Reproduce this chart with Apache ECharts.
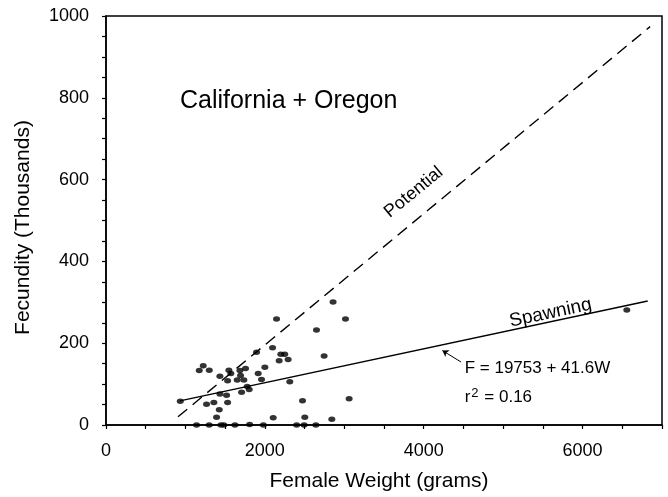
<!DOCTYPE html>
<html>
<head>
<meta charset="utf-8">
<script src="https://cdn.jsdelivr.net/npm/echarts@6/dist/echarts.min.js"></script>
<style>
  html, body { margin: 0; padding: 0; background: #fff; }
  #chart { width: 668px; height: 497px; }
</style>
</head>
<body>
<div id="chart"></div>
<script>
// female weight (g) vs fecundity (thousands)
const fishPoints = [
  [935, 58], [2859, 301], [2147, 259], [3015, 259], [2650, 232],
  [2097, 189], [1895, 178], [2746, 169], [2201, 173], [2250, 173],
  [2180, 157], [2293, 160], [1224, 145], [1174, 133], [1300, 134],
  [1547, 134], [1572, 126], [1686, 133], [1757, 138], [2000, 141],
  [1916, 126], [1434, 119], [1694, 121], [1958, 111], [1531, 108],
  [1652, 110], [1736, 110], [2314, 106], [1778, 94], [1803, 87],
  [1707, 80], [1434, 76], [1518, 73], [1266, 51], [1358, 55],
  [1531, 55], [1426, 37], [2474, 59], [3061, 64], [1392, 19],
  [2105, 18], [2503, 19], [2843, 14], [6557, 281],
  [1140, 0], [1299, 0], [1447, 0], [1484, 0], [1623, 0],
  [1808, 1], [1981, 0], [2400, 0], [2494, 0], [2642, 0]
];
const spawningLine = [[930, 59], [6820, 303]];
const potentialLine = [[906, 20], [6850, 974]];
const xTickLabels = [0, 2000, 4000, 6000];
const yTickLabels = [0, 200, 400, 600, 800, 1000];

const FONT = '"Liberation Sans", Arial, Helvetica, sans-serif';
const chart = echarts.init(document.getElementById('chart'));

chart.setOption({
  animation: false,
  backgroundColor: '#fff',
  grid: {
    left: 106, right: 6, top: 16, bottom: 72,
    show: true, borderColor: '#000', borderWidth: 1.5
  },
  xAxis: {
    type: 'value', min: 0, max: 7000, interval: 500,
    name: 'Female Weight (grams)', nameLocation: 'middle', nameGap: 46,
    nameTextStyle: { fontFamily: FONT, fontSize: 21, color: '#000', padding: [0, 10, 0, 0] },
    axisLine: { lineStyle: { color: '#000', width: 1.5 } },
    axisTick: { length: 4, lineStyle: { color: '#000', width: 1.2 } },
    axisLabel: {
      margin: 17, fontFamily: FONT, fontSize: 18, color: '#000',
      formatter: v => xTickLabels.includes(v) ? String(v) : ''
    },
    splitLine: { show: false }
  },
  yAxis: {
    type: 'value', min: 0, max: 1000, interval: 50,
    name: 'Fecundity (Thousands)', nameLocation: 'middle', nameGap: 72,
    nameTextStyle: { fontFamily: FONT, fontSize: 21, color: '#000', padding: [0, 14, 0, 0] },
    axisLine: { lineStyle: { color: '#000', width: 1.5 } },
    axisTick: { length: 4, lineStyle: { color: '#000', width: 1.2 } },
    axisLabel: {
      margin: 17, fontFamily: FONT, fontSize: 18, color: '#000',
      formatter: v => yTickLabels.includes(v) ? String(v) : ''
    },
    splitLine: { show: false }
  },
  series: [
    {
      name: 'Potential', type: 'line', data: potentialLine,
      symbol: 'none', silent: true,
      lineStyle: { color: '#000', width: 1.4, type: [12, 7] }
    },
    {
      name: 'Spawning', type: 'line', data: spawningLine,
      symbol: 'none', silent: true,
      lineStyle: { color: '#000', width: 1.5 },
      markLine: {
        silent: true, symbol: ['none', 'arrow'], symbolSize: 6,
        label: { show: false },
        lineStyle: { color: '#000', width: 1, type: 'solid' },
        data: [[{ coord: [4470, 154] }, { coord: [4235, 182] }]]
      }
    },
    {
      name: 'Fish', type: 'scatter', data: fishPoints,
      symbol: 'circle', symbolSize: [7, 5.5],
      itemStyle: { color: '#000' }, z: 5
    }
  ]
});

// annotations anchored in data space
function at(w, f) { return chart.convertToPixel({ gridIndex: 0 }, [w, f]); }
const pTitle = at(931, 792);
const pPot = at(3874, 569);
const pSpawn = at(5597, 274);
const pEq = at(4516, 139);
const pR2 = at(4516, 68);

chart.setOption({
  graphic: [
    { type: 'text', x: pTitle[0], y: pTitle[1],
      style: { text: 'California + Oregon', font: '25px ' + FONT, fill: '#000', verticalAlign: 'middle' } },
    { type: 'text', x: pPot[0], y: pPot[1], rotation: 39.4 * Math.PI / 180,
      style: { text: 'Potential', font: '18px ' + FONT, fill: '#000', align: 'center', verticalAlign: 'middle' } },
    { type: 'text', x: pSpawn[0], y: pSpawn[1], rotation: 12 * Math.PI / 180,
      style: { text: 'Spawning', font: '19px ' + FONT, fill: '#000', align: 'center', verticalAlign: 'middle' } },
    { type: 'text', x: pEq[0], y: pEq[1],
      style: { text: 'F = 19753 + 41.6W', font: '17px ' + FONT, fill: '#000', verticalAlign: 'middle' } },
    { type: 'text', x: pR2[0], y: pR2[1],
      style: {
        text: 'r{sup|2} = 0.16', font: '17px ' + FONT, fill: '#000', verticalAlign: 'middle',
        rich: { sup: { fontSize: 13, fontFamily: FONT, verticalAlign: 'top', padding: [0, 1, 8, 1] } }
      } }
  ]
});
</script>
</body>
</html>
